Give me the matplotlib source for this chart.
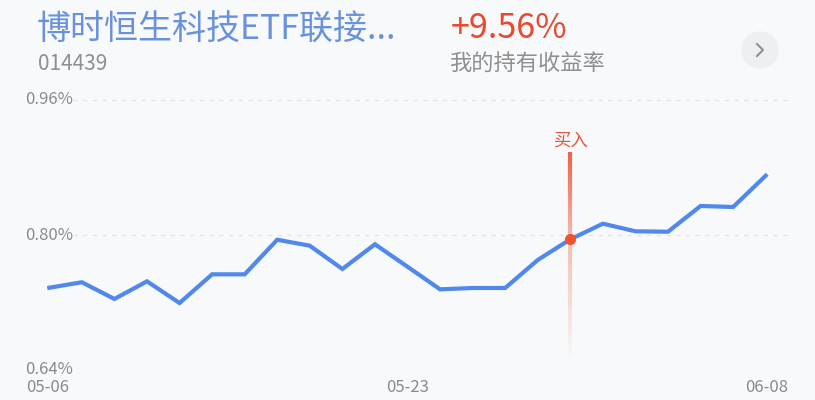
import numpy as np
import matplotlib
matplotlib.use("Agg")
import matplotlib.pyplot as plt
from matplotlib.collections import LineCollection
from matplotlib.patches import Circle
from matplotlib import transforms

plt.rcParams['font.family'] = ['Noto Sans CJK SC', 'DejaVu Sans']

# ---- data ----
title = "博时恒生科技ETF联接..."
code = "014439"
ret_text = "+9.56%"
ret_label = "我的持有收益率"
dates = ["05-06", "05-09", "05-10", "05-11", "05-12", "05-13", "05-16", "05-17",
         "05-18", "05-19", "05-20", "05-23", "05-24", "05-25", "05-26", "05-27",
         "05-30", "05-31", "06-01", "06-02", "06-06", "06-07", "06-08"]
values = [0.7375, 0.7440, 0.7242, 0.7451, 0.7194, 0.7534, 0.7534, 0.7944,
          0.7873, 0.7597, 0.7890, 0.7624, 0.7356, 0.7372, 0.7372, 0.7704,
          0.7949, 0.8134, 0.8044, 0.8039, 0.8344, 0.8332, 0.8703]
buy_index = 16
buy_label = "买入"
y_ticks = [0.64, 0.80, 0.96]
y_tick_labels = ["0.64%", "0.80%", "0.96%"]
x_tick_idx = [0, 11, 22]

BG = "#f8f9fb"
W, H = 815, 400
fig = plt.figure(figsize=(W / 100, H / 100), dpi=100, facecolor=BG)

# plot axes: index 0 at px 49.3, index 22 at px 765.7; 0.64 at px 370, 0.96 at px 100
ax = fig.add_axes([49.3 / W, 30 / H, (765.7 - 49.3) / W, 270 / H])
ax.set_facecolor(BG)
ax.patch.set_alpha(0)
ax.set_xlim(0, len(dates) - 1)
ax.set_ylim(0.64, 0.96)
ax.axis('off')

x = np.arange(len(dates))
gx0 = (73 - 49.3) / 32.56
gx1 = (788 - 49.3) / 32.56
for yt in y_ticks[1:]:
    ax.hlines(yt, gx0, gx1, colors="#e3e5ea", linestyles=(0, (3, 4)), lw=1.0, clip_on=False, zorder=1)

# buy vertical gradient line
bx = x[buy_index]
by = values[buy_index]
top_y = 0.80 + (235 - 152) * 0.16 / 135
bot_y = 0.80 - (360 - 235) * 0.16 / 135
n = 120
ys = np.linspace(top_y, bot_y, n + 1)
segs = [[(bx, ys[i]), (bx, ys[i + 1])] for i in range(n)]
mid = (ys[:-1] + ys[1:]) / 2
alphas = np.where(mid >= by,
                  1.0 - 0.6 * (top_y - mid) / (top_y - by),
                  0.4 * (mid - bot_y) / (by - bot_y))
cols = [(0.93, 0.38, 0.28, float(np.clip(a, 0, 1))) for a in alphas]
lc = LineCollection(segs, colors=cols, linewidths=3, clip_on=False, zorder=2, capstyle='butt')
ax.add_collection(lc)
ax.text(bx, top_y + 0.003, buy_label, ha='center', va='bottom', fontsize=12.5,
        color="#e4553c", clip_on=False)

ax.plot(x, values, color="#5088ee", lw=3, solid_joinstyle='miter', clip_on=False, zorder=3)
ax.plot([bx], [by], 'o', ms=7, color="#f0532f", mec="#f0532f", clip_on=False, zorder=4)

# y tick labels
tr = transforms.blended_transform_factory(fig.transFigure, ax.transData)
for yt, lab in zip(y_ticks, y_tick_labels):
    ax.text(25 / W, yt, lab, transform=tr, ha='left', va='center', fontsize=12, color="#8a8a8a")

# x tick labels
trx = transforms.blended_transform_factory(ax.transData, fig.transFigure)
aligns = ['left', 'center', 'right']
for i, al in zip(x_tick_idx, aligns):
    if al == 'left':
        ax.text(26 / W, 12 / H, dates[i], transform=fig.transFigure, ha='left', va='center', fontsize=12, color="#8a8a8a")
    elif al == 'right':
        ax.text(788 / W, 12 / H, dates[i], transform=fig.transFigure, ha='right', va='center', fontsize=12, color="#8a8a8a")
    else:
        ax.text(x[i], 12 / H, dates[i], transform=trx, ha='center', va='center', fontsize=12, color="#8a8a8a")

# header
fig.text(37 / W, 1 - 30 / H, title, ha='left', va='center', fontsize=24.5, color="#6a92dc")
fig.text(38 / W, 1 - 64 / H, code, ha='left', va='center', fontsize=15, color="#8f8f8f")
fig.text(451 / W, 1 - 29 / H, ret_text, ha='left', va='center', fontsize=24.5, color="#e8492f")
fig.text(449 / W, 1 - 64 / H, ret_label, ha='left', va='center', fontsize=16, color="#8f8f8f")

# round button
bax = fig.add_axes([0, 0, 1, 1])
bax.set_xlim(0, W)
bax.set_ylim(H, 0)
bax.axis('off')
bax.patch.set_alpha(0)
bax.add_patch(Circle((760, 50), 18, color="#eeeff2", zorder=1))
bax.plot([757, 763, 757], [44, 50, 56], color="#8a8a8a", lw=1.4, zorder=2)

fig.savefig("out.png", dpi=100, facecolor=BG)
